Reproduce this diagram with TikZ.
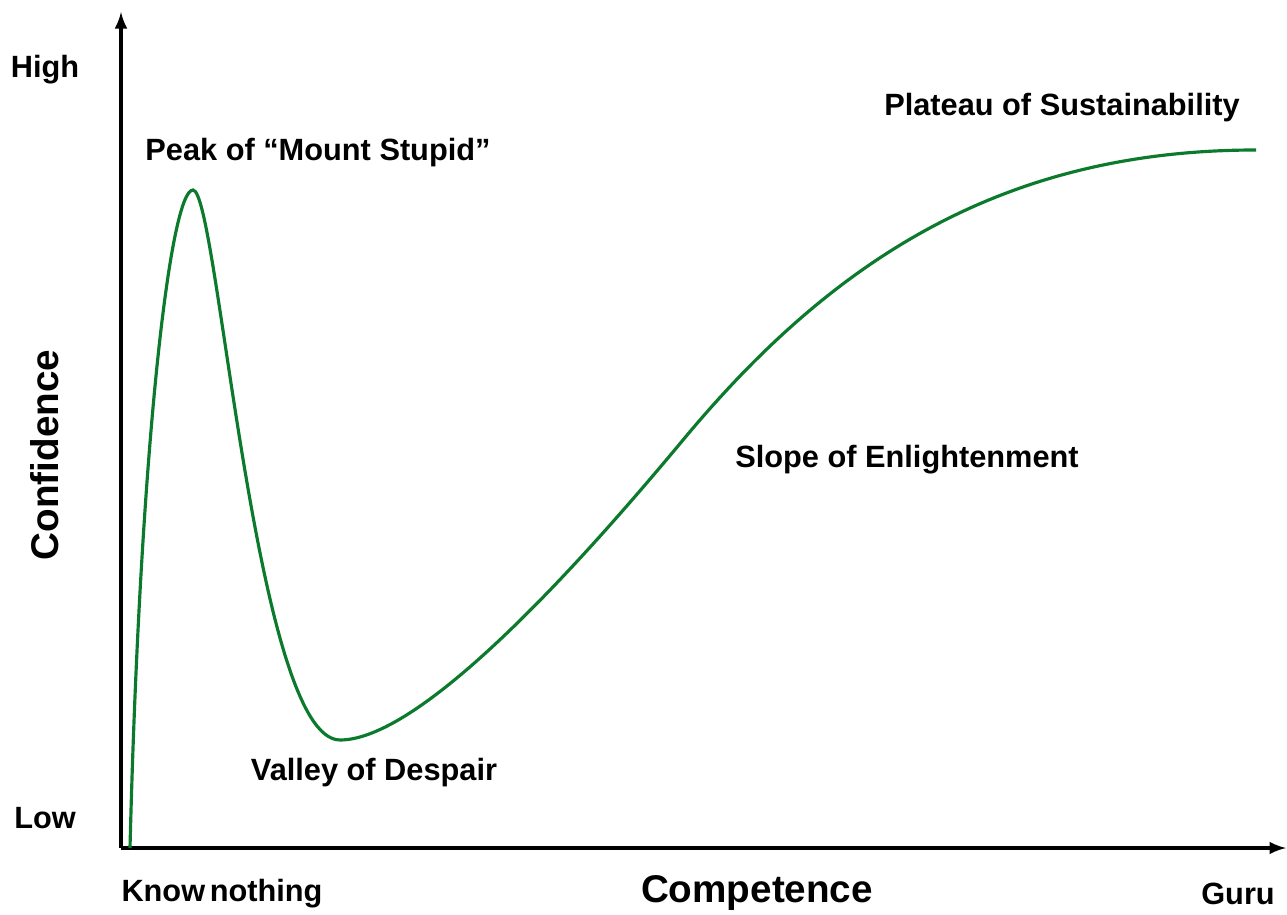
\documentclass[tikz,border=0pt]{standalone}
\usepackage{fontspec}
\setmainfont{Liberation Sans}
\usepackage{tikz}
\usetikzlibrary{arrows}
\definecolor{curvegreen}{HTML}{0B7A2C}

\begin{document}
\begin{tikzpicture}[x=0.02cm,y=-0.02cm,>=latex,
  axis line/.style={draw=black,line width=2.2pt},
  label node/.style={font=\fontsize{17.5}{20}\selectfont\bfseries,inner sep=0pt},
  axis title/.style={font=\fontsize{22}{26}\selectfont\bfseries,inner sep=0pt}]

  \useasboundingbox (0,0) rectangle (1287,915);

  % axes
  \coordinate (origin) at (121,848);
  \coordinate (ytop) at (121,12);
  \coordinate (xend) at (1286,848);
  \draw[axis line,->] (origin) -- (ytop);
  \draw[axis line,->] (origin) -- (xend);

  % axis texts
  \node[label node] (high) at (45,70) {High};
  \node[label node] (low) at (45,818) {Low};
  \node[axis title,rotate=90] (conf) at (45,455) {Confidence};
  \node[label node] (know) at (222,894) {Know\hspace{0.15em}nothing};
  \node[axis title] (comp) at (757,893) {Competence};
  \node[label node] (guru) at (1238,894) {Guru};

  % curve
  \coordinate (start) at (130,848);
  \coordinate (peak) at (193,190);
  \coordinate (valley) at (340,740);
  \coordinate (slope) at (683,440);
  \coordinate (plateau) at (1256,150);
  \draw[curvegreen,line width=1.8pt]
    (start) .. controls (140,450) and (170,190) .. (peak)
            .. controls (218,190) and (255,740) .. (valley)
            .. controls (425,740) and (593,548) .. (slope)
            .. controls (830,263) and (1000,150) .. (plateau);

  % stage labels
  \node[label node] (peaklbl) at (318,153) {Peak of “Mount Stupid”};
  \node[label node] (valleylbl) at (374,773) {Valley of Despair};
  \node[label node] (slopelbl) at (907,460) {Slope of Enlightenment};
  \node[label node] (plateaulbl) at (1062,108) {Plateau of Sustainability};
\end{tikzpicture}
\end{document}
